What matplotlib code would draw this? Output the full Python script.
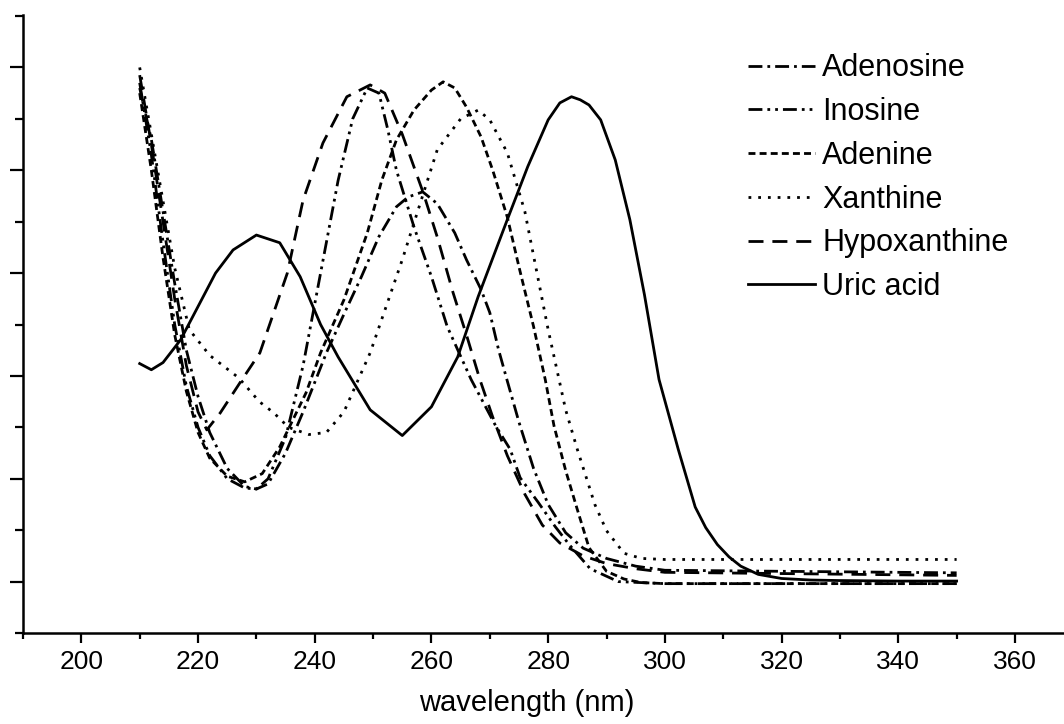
import matplotlib
matplotlib.use("Agg")
import matplotlib.pyplot as plt
from matplotlib.ticker import MultipleLocator, NullFormatter

plt.rcParams['font.family'] = ['Liberation Sans', 'DejaVu Sans']

# absorption spectra (arbitrary absorbance units)
wl_adenosine = [210, 212, 214, 216, 218, 220, 222, 225, 228, 230, 232, 235, 238, 242, 245, 248,
                251, 254, 256, 258.5, 261, 264, 266, 268.5, 270, 271.5, 273, 275, 277.5, 280,
                283, 286, 290, 295, 300, 350]
abs_adenosine = [0.96, 0.86, 0.72, 0.58, 0.45, 0.36, 0.29, 0.22, 0.185, 0.18, 0.19, 0.25, 0.33,
                 0.445, 0.52, 0.593, 0.671, 0.729, 0.748, 0.758, 0.735, 0.678, 0.626, 0.568,
                 0.523, 0.451, 0.39, 0.31, 0.22, 0.15, 0.095, 0.065, 0.045, 0.03, 0.022, 0.017]

wl_inosine = [210, 212, 214, 216, 218, 220, 222, 225, 228, 230, 232, 235, 238, 241, 244, 246.5,
              249, 251, 252.5, 254, 257, 260, 262.7, 266.8, 271, 273.5, 275.2, 278.3, 281.2,
              283.6, 287.2, 292, 300, 350]
abs_inosine = [0.97, 0.83, 0.66, 0.5, 0.38, 0.3, 0.245, 0.2, 0.182, 0.18, 0.2, 0.28, 0.42, 0.6,
               0.78, 0.9, 0.96, 0.95, 0.88, 0.80, 0.69, 0.593, 0.496, 0.393, 0.303, 0.257,
               0.202, 0.154, 0.107, 0.072, 0.025, 0.0, -0.004, -0.004]

wl_adenine = [210, 212, 214, 216, 218, 220, 222, 225, 228, 231, 234, 238.5, 241, 245, 249,
              251.5, 254, 257, 260, 262, 264, 266, 268.5, 270.5, 273, 275, 277.5, 279.5, 281,
              283, 285, 287, 290, 293, 296, 300, 350]
abs_adenine = [0.95, 0.80, 0.63, 0.48, 0.37, 0.29, 0.24, 0.205, 0.194, 0.21, 0.262, 0.367,
               0.445, 0.548, 0.678, 0.781, 0.859, 0.917, 0.956, 0.972, 0.96, 0.923, 0.865,
               0.80, 0.709, 0.612, 0.496, 0.393, 0.303, 0.216, 0.14, 0.066, 0.02, 0.005,
               -0.002, -0.004, -0.004]

wl_xanthine = [210, 212, 214, 216, 218.5, 222, 224.5, 227, 230.5, 233, 235.5, 239, 242, 245,
               249.5, 255, 261, 265, 268, 270, 273, 276, 280, 283, 285, 288, 290, 293, 296,
               300, 350]
abs_xanthine = [1.0, 0.87, 0.74, 0.61, 0.49, 0.44, 0.418, 0.396, 0.35, 0.328, 0.30, 0.286,
                0.29, 0.33, 0.445, 0.626, 0.84, 0.90, 0.917, 0.898, 0.834, 0.72, 0.49, 0.334,
                0.257, 0.15, 0.099, 0.055, 0.045, 0.043, 0.043]

wl_hypoxanthine = [210, 212, 214, 216, 218, 220, 221.5, 223.8, 227.2, 230.6, 235.3, 238, 241.4,
                   245.5, 249.5, 252, 255, 258.6, 261, 263.7, 266.1, 268.3, 270.5, 273, 276,
                   279, 282, 286, 290, 295, 300, 350]
abs_hypoxanthine = [0.985, 0.85, 0.70, 0.55, 0.42, 0.33, 0.295, 0.328, 0.387, 0.445, 0.60,
                    0.742, 0.853, 0.943, 0.966, 0.95, 0.87, 0.756, 0.67, 0.562, 0.476, 0.393,
                    0.32, 0.245, 0.17, 0.11, 0.075, 0.05, 0.035, 0.025, 0.018, 0.012]

wl_uric = [210, 212, 214, 217, 220, 223, 226, 230, 234, 237.5, 241, 244, 249.5, 255, 260,
           264.5, 268, 273, 276.5, 280, 282, 284, 285.5, 287, 289, 291.5, 294, 296.5, 299,
           302.3, 305.2, 307, 309, 311, 313, 316, 320, 325, 330, 340, 350]
abs_uric = [0.424, 0.412, 0.426, 0.470, 0.535, 0.600, 0.645, 0.674, 0.659, 0.593, 0.50, 0.437,
            0.334, 0.284, 0.34, 0.437, 0.554, 0.704, 0.807, 0.898, 0.931, 0.943, 0.937, 0.927,
            0.898, 0.82, 0.704, 0.558, 0.393, 0.257, 0.145, 0.105, 0.072, 0.048, 0.03, 0.014,
            0.006, 0.003, 0.002, 0.001, 0.001]

fig = plt.figure(figsize=(10.64, 7.24), dpi=100)
ax = fig.add_axes([0.0216, 0.1257, 0.9784, 0.8536])

lw = 2.0
ax.plot(wl_adenosine, abs_adenosine, color='black', lw=lw, ls=(0, (5, 1.8, 1, 1.8)), label='Adenosine')
ax.plot(wl_inosine, abs_inosine, color='black', lw=lw, ls=(0, (5, 1.8, 1, 1.8, 1, 1.8)), label='Inosine')
ax.plot(wl_adenine, abs_adenine, color='black', lw=lw, ls=(0, (2.5, 1.5)), label='Adenine')
ax.plot(wl_xanthine, abs_xanthine, color='black', lw=lw, ls=(0, (1, 2.5)), label='Xanthine')
ax.plot(wl_hypoxanthine, abs_hypoxanthine, color='black', lw=lw, ls=(0, (5.4, 3.2)), label='Hypoxanthine')
ax.plot(wl_uric, abs_uric, color='black', lw=lw, ls='-', label='Uric acid')

ax.set_xlim(190, 368.4)
ax.set_ylim(-0.1, 1.102)

ax.xaxis.set_major_locator(MultipleLocator(20))
ax.xaxis.set_minor_locator(MultipleLocator(10))
ax.yaxis.set_major_locator(MultipleLocator(0.2))
ax.yaxis.set_minor_locator(MultipleLocator(0.1))
ax.yaxis.set_major_formatter(NullFormatter())

for side in ['top', 'right']:
    ax.spines[side].set_visible(False)
for side in ['left', 'bottom']:
    ax.spines[side].set_linewidth(1.8)

ax.tick_params(axis='x', which='major', direction='out', length=7, width=1.6, labelsize=19, pad=5)
ax.tick_params(axis='x', which='minor', direction='out', length=4.5, width=1.6)
ax.tick_params(axis='y', which='major', direction='out', length=9.5, width=1.6)
ax.tick_params(axis='y', which='minor', direction='out', length=6, width=1.6)

ax.set_xlabel('wavelength (nm)', fontsize=21)
ax.xaxis.set_label_coords(0.484, -0.09)

ax.legend(loc='upper left', bbox_to_anchor=(0.696, 0.938), frameon=False, fontsize=22,
          handlelength=2.2, handletextpad=0.25, labelspacing=0.45, borderpad=0, borderaxespad=0)

fig.savefig('out.png', dpi=100)
